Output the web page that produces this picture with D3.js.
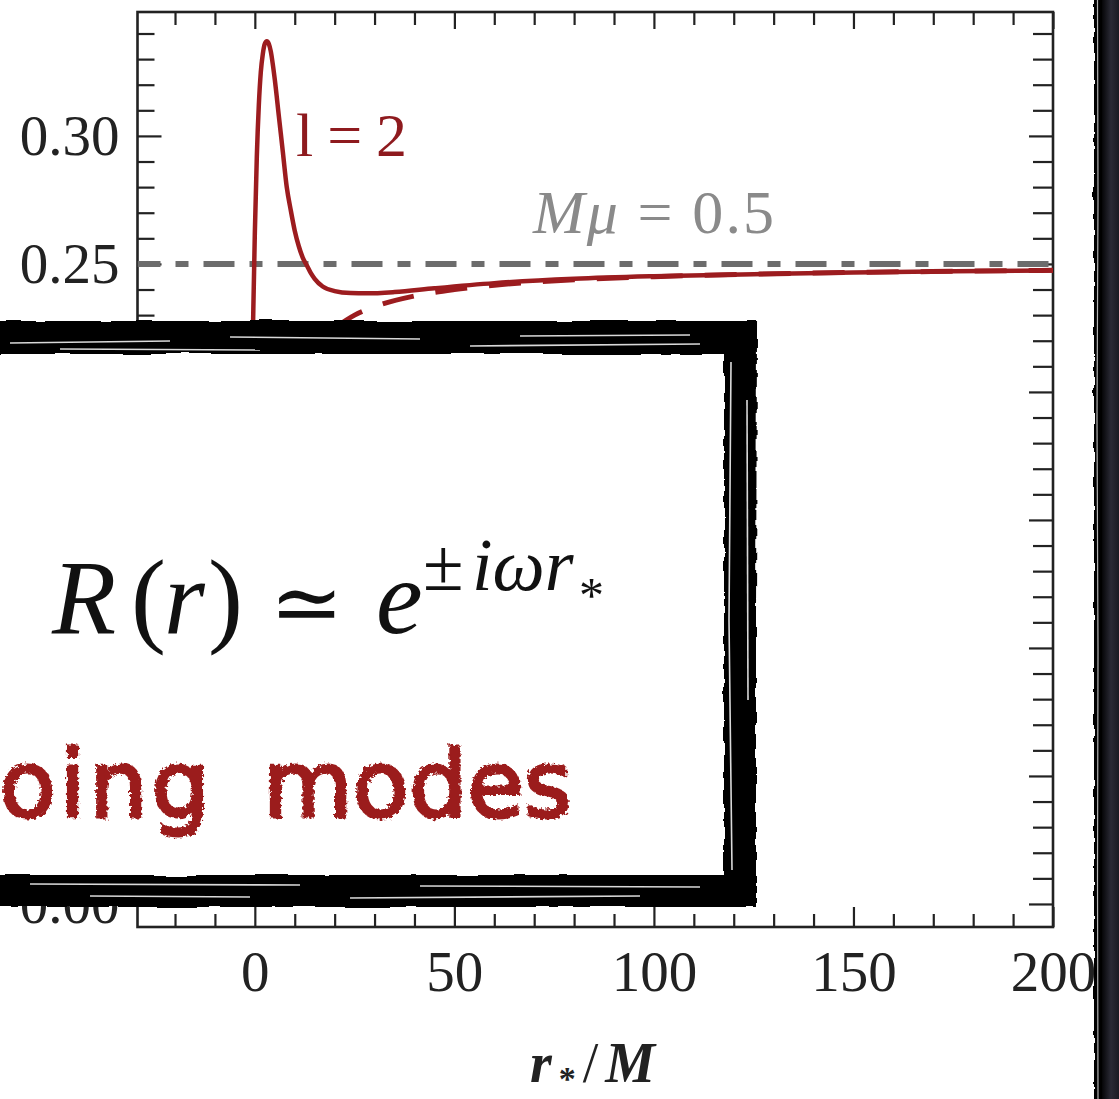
<!DOCTYPE html>
<html>
<head>
<meta charset="utf-8">
<script src="https://cdn.jsdelivr.net/npm/d3@7"></script>
<style>
  body { margin: 0; background: #fff; overflow: hidden; }
  svg { display: block; }
</style>
</head>
<body>
<svg id="chart"></svg>
<script>
// effective potential, l = 2, M mu = 0.5
const rStar = [-29, -20, -15, -12, -10, -8, -6, -5, -4, -3, -2, -1, -0.5, 0, 0.5, 1, 1.5, 2, 2.5, 3, 3.5, 4, 4.5, 5, 6, 7, 8, 9, 10, 11, 12, 13, 14, 15, 17, 20, 24, 28, 35, 45, 60, 80, 100, 125, 150, 175, 200];
const potential = [0.0000, 0.0001, 0.0008, 0.0024, 0.0052, 0.011, 0.024, 0.036, 0.055, 0.082, 0.122, 0.180, 0.222, 0.262, 0.292, 0.312, 0.325, 0.332, 0.336, 0.337, 0.336, 0.333, 0.328, 0.322, 0.308, 0.294, 0.280, 0.271, 0.263, 0.257, 0.2525, 0.2495, 0.2465, 0.2442, 0.2412, 0.2394, 0.2386, 0.2385, 0.2390, 0.2405, 0.2425, 0.2442, 0.2452, 0.2460, 0.2466, 0.2471, 0.2474];
// dashed large-distance approximation
const rStarFar = [20, 25, 30, 40, 50, 60, 80, 100, 125, 150, 175, 200];
const potentialFar = [0.2250, 0.2300, 0.2333, 0.2375, 0.2400, 0.2417, 0.2438, 0.2450, 0.2460, 0.2467, 0.2471, 0.2475];
const massLevel = 0.25;

const xTicks = [0, 50, 100, 150, 200];
const yTicks = [0, 0.05, 0.10, 0.15, 0.20, 0.25, 0.30];
const yLabelled = [0, 0.25, 0.30]; // the others sit under the pasted box

const width = 1119, height = 1099;
const margin = { top: 12, right: 66, bottom: 172, left: 137.5 };
const serif = "'Liberation Serif', 'Times New Roman', serif";
const ink = "#222";
const red = "#9c1c1f";

const svg = d3.select("#chart").attr("width", width).attr("height", height);

const x = d3.scaleLinear().domain([-29.4, 200]).range([margin.left, width - margin.right]);
const y = d3.scaleLinear().domain([-0.009, 0.3484]).range([height - margin.bottom, margin.top]);

const defs = svg.append("defs");
defs.append("clipPath").attr("id", "plotclip")
  .append("rect")
  .attr("x", margin.left).attr("y", margin.top)
  .attr("width", width - margin.left - margin.right)
  .attr("height", height - margin.top - margin.bottom);

const rough = defs.append("filter").attr("id", "rough")
  .attr("x", "-10%").attr("y", "-10%").attr("width", "120%").attr("height", "120%");
rough.append("feTurbulence").attr("type", "fractalNoise")
  .attr("baseFrequency", "0.02 0.08").attr("numOctaves", 2).attr("seed", 4).attr("result", "n");
rough.append("feDisplacementMap").attr("in", "SourceGraphic").attr("in2", "n").attr("scale", 5);

const chalk = defs.append("filter").attr("id", "chalk");
chalk.append("feTurbulence").attr("type", "fractalNoise")
  .attr("baseFrequency", 0.3).attr("numOctaves", 2).attr("seed", 7).attr("result", "n");
chalk.append("feDisplacementMap").attr("in", "SourceGraphic").attr("in2", "n").attr("scale", 6);

// ---- axes (ticks point inward) ----
const minorX = d3.range(-20, 201, 10).filter(d => !xTicks.includes(d));
const minorY = d3.range(0, 35, 1).map(d => d / 100).filter(d => !yTicks.some(t => Math.abs(t - d) < 1e-9));

function styleAxis(g) {
  g.select(".domain").remove();
  g.attr("color", ink);
  g.selectAll("line").attr("stroke-width", 2.2);
  g.selectAll("text")
    .attr("font-family", serif)
    .attr("font-size", 57)
    .attr("fill", ink);
}

const bottomY = height - margin.bottom;
const rightX = width - margin.right;
const yFormat = d3.format(".2f");

svg.append("g").attr("transform", `translate(0,${bottomY})`)
  .call(d3.axisBottom(x).tickValues(xTicks).tickSize(-20).tickPadding(24).tickFormat(d3.format("d")))
  .call(styleAxis);
svg.append("g").attr("transform", `translate(0,${bottomY})`)
  .call(d3.axisBottom(x).tickValues(minorX).tickSize(-13).tickFormat(""))
  .call(styleAxis);
svg.append("g").attr("transform", `translate(0,${margin.top})`)
  .call(d3.axisTop(x).tickValues(xTicks).tickSize(-17).tickFormat(""))
  .call(styleAxis);
svg.append("g").attr("transform", `translate(0,${margin.top})`)
  .call(d3.axisTop(x).tickValues(minorX).tickSize(-13).tickFormat(""))
  .call(styleAxis);

svg.append("g").attr("transform", `translate(${margin.left},0)`)
  .call(d3.axisLeft(y).tickValues(yTicks).tickSize(-24).tickPadding(18)
    .tickFormat(d => yLabelled.includes(d) ? yFormat(d) : ""))
  .call(styleAxis);
svg.append("g").attr("transform", `translate(${margin.left},0)`)
  .call(d3.axisLeft(y).tickValues(minorY).tickSize(-17).tickFormat(""))
  .call(styleAxis);
svg.append("g").attr("transform", `translate(${rightX},0)`)
  .call(d3.axisRight(y).tickValues(yTicks).tickSize(-24).tickFormat(""))
  .call(styleAxis);
svg.append("g").attr("transform", `translate(${rightX},0)`)
  .call(d3.axisRight(y).tickValues(minorY).tickSize(-20).tickFormat(""))
  .call(styleAxis);

// frame
svg.append("rect")
  .attr("x", margin.left).attr("y", margin.top)
  .attr("width", rightX - margin.left).attr("height", bottomY - margin.top)
  .attr("fill", "none").attr("stroke", ink).attr("stroke-width", 2.6);

// ---- curves ----
const plot = svg.append("g").attr("clip-path", "url(#plotclip)");

plot.append("line")
  .attr("x1", x(x.domain()[0])).attr("x2", x(x.domain()[1]))
  .attr("y1", y(massLevel)).attr("y2", y(massLevel))
  .attr("stroke", "#6c6c6c").attr("stroke-width", 6)
  .attr("stroke-dasharray", "31 15 13 15").attr("stroke-dashoffset", 8);

const line = d3.line().curve(d3.curveMonotoneX);

plot.append("path")
  .attr("d", line(rStarFar.map((r, i) => [x(r), y(potentialFar[i])])))
  .attr("fill", "none").attr("stroke", red).attr("stroke-width", 5)
  .attr("stroke-dasharray", "32 22");

plot.append("path")
  .attr("d", line(rStar.map((r, i) => [x(r), y(potential[i])])))
  .attr("fill", "none").attr("stroke", red).attr("stroke-width", 4.5)
  .attr("stroke-linejoin", "round");

// ---- annotations ----
svg.append("text")
  .attr("x", 296).attr("y", 156)
  .attr("font-family", serif).attr("font-size", 62).attr("fill", "#8e1a1e")
  .attr("textLength", 111).attr("lengthAdjust", "spacing")
  .text("l = 2");

const mu = svg.append("text")
  .attr("x", 533).attr("y", 233)
  .attr("font-family", serif).attr("font-size", 62).attr("fill", "#8a8a8a")
  .attr("textLength", 241).attr("lengthAdjust", "spacing");
mu.append("tspan").attr("font-style", "italic").text("M");
mu.append("tspan").attr("font-style", "italic").text("μ");
mu.append("tspan").text(" = 0.5");

const xl = svg.append("text")
  .attr("x", 530).attr("y", 1082)
  .attr("font-family", serif).attr("font-size", 56).attr("fill", ink)
  .attr("font-weight", "bold")
  .attr("textLength", 125).attr("lengthAdjust", "spacing");
xl.append("tspan").attr("font-style", "italic").text("r");
xl.append("tspan").attr("font-size", 34).attr("dy", 8).text("*");
xl.append("tspan").attr("dy", -8).attr("font-weight", "normal").text("/");
xl.append("tspan").attr("font-style", "italic").text("M");

// ---- hand-drawn overlay box ----
const box = svg.append("g");
box.append("rect")
  .attr("x", -80).attr("y", 338).attr("width", 820).attr("height", 553)
  .attr("fill", "#fff");

const strokes = box.append("g").attr("filter", "url(#rough)");
strokes.append("path").attr("d", "M -80 338 L 740 338 L 740 891 L -80 891")
  .attr("fill", "none").attr("stroke", "#000").attr("stroke-width", 32)
  .attr("stroke-linejoin", "miter");
strokes.append("path").attr("d", "M -80 334 L 744 334 L 742 893 L -80 890")
  .attr("fill", "none").attr("stroke", "#000").attr("stroke-width", 26);

const streaks = [
  "M 10 343 L 170 341", "M 230 337 L 420 339", "M 470 346 L 700 344",
  "M 60 349 L 260 350", "M 520 336 L 690 335",
  "M 731 362 L 729 620 L 732 870", "M 747 400 L 748 700",
  "M 30 884 L 300 885", "M 350 898 L 640 896", "M 90 896 L 250 897", "M 420 886 L 700 887"
];
box.append("g").selectAll("path").data(streaks).join("path")
  .attr("d", d => d)
  .attr("fill", "none").attr("stroke", "#fff").attr("stroke-width", 1.6)
  .attr("stroke-opacity", 0.85);

// formula R(r) ~= e^{±iωr*}
const eq = box.append("g").attr("font-family", serif).attr("fill", "#111");
eq.append("text").attr("x", 52).attr("y", 633).attr("font-size", 105).attr("font-style", "italic").text("R");
eq.append("text").attr("x", 131).attr("y", 633).attr("font-size", 105).text("(");
eq.append("text").attr("x", 164).attr("y", 633).attr("font-size", 105).attr("font-style", "italic").text("r");
eq.append("text").attr("x", 208).attr("y", 633).attr("font-size", 105).text(")");
eq.append("text").attr("x", 270).attr("y", 633).attr("font-size", 88)
  .attr("font-family", "'DejaVu Serif', 'DejaVu Sans', serif").text("≃");
eq.append("text").attr("x", 376).attr("y", 633).attr("font-size", 105).attr("font-style", "italic").text("e");
eq.append("text").attr("x", 423).attr("y", 590).attr("font-size", 74).text("±");
eq.append("text").attr("x", 472).attr("y", 590).attr("font-size", 74).attr("font-style", "italic").text("iωr");
eq.append("text").attr("x", 579).attr("y", 612).attr("font-size", 50).text("*");

// handwritten caption (left part runs off the page)
const hand = box.append("g").attr("filter", "url(#chalk)")
  .attr("font-family", "'DejaVu Sans', sans-serif").attr("font-size", 92)
  .attr("fill", "#9b1b1b").attr("stroke", "#9b1b1b").attr("stroke-width", 3);
hand.append("text").attr("x", 214).attr("y", 817).attr("text-anchor", "end")
  .attr("letter-spacing", 4).text("ingoing");
hand.append("text").attr("x", 263).attr("y", 817).text("modes");

// ---- dark border on the right ----
const grad = defs.append("linearGradient").attr("id", "edge").attr("x1", 0).attr("x2", 1);
grad.append("stop").attr("offset", 0).attr("stop-color", "#050507");
grad.append("stop").attr("offset", 0.45).attr("stop-color", "#2a2a35");
grad.append("stop").attr("offset", 1).attr("stop-color", "#15151c");
svg.append("rect").attr("x", 1094).attr("y", -10).attr("width", 30).attr("height", height + 20)
  .attr("fill", "#000").attr("filter", "url(#rough)");
svg.append("rect").attr("x", 1102).attr("y", -5).attr("width", 20).attr("height", height + 10)
  .attr("fill", "url(#edge)");
svg.append("path")
  .attr("d", "M 1097.5 0 L 1098 200 L 1097 420 L 1098 650 L 1097.5 880 L 1098 1099")
  .attr("fill", "none").attr("stroke", "#fff").attr("stroke-width", 1.2).attr("stroke-opacity", 0.7);
</script>
</body>
</html>
